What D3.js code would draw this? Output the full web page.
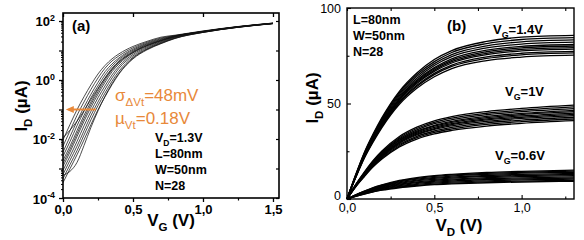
<!DOCTYPE html>
<html><head><meta charset="utf-8">
<script src="https://cdn.jsdelivr.net/npm/d3@7"></script>
<style>
body{margin:0;background:#fff}
svg{display:block}
text{font-family:"Liberation Sans",Arial,Helvetica,sans-serif}
</style>
</head><body>
<svg id="c" width="584" height="240"></svg>
<script>
// ---------- Panel (a): transfer curves ID(VG), VD = 1.3 V ----------
const vgGrid = [0, 0.05, 0.1, 0.15, 0.2, 0.25, 0.3, 0.35, 0.4, 0.5, 0.6, 0.7, 0.8, 1.0, 1.25, 1.5];
const transferCurves = [
  [9.3e-3, 0.031, 0.098, 0.27, 0.69, 1.6, 3.1, 5.2, 7.7, 13.7, 20.4, 28.3, 33, 46, 65, 85],
  [5.7e-3, 0.019, 0.063, 0.18, 0.48, 1.17, 2.5, 4.4, 6.6, 12.3, 19, 26.5, 32, 45, 64.5, 85],
  [3.6e-3, 0.012, 0.040, 0.12, 0.33, 0.83, 1.9, 3.5, 5.6, 11.1, 17.7, 25, 31.5, 44.5, 64, 84],
  [2.6e-3, 8.2e-3, 0.028, 0.087, 0.25, 0.63, 1.48, 2.95, 5.0, 10.2, 16.7, 23.7, 31, 44, 63.5, 83.5],
  [1.9e-3, 5.7e-3, 0.019, 0.063, 0.18, 0.48, 1.17, 2.5, 4.4, 9.4, 15.8, 22.6, 30.3, 43.8, 63.2, 83.2],
  [1.5e-3, 4.5e-3, 0.015, 0.050, 0.15, 0.40, 1.0, 2.2, 4.0, 8.9, 15.1, 21.9, 30.2, 43.7, 63.1, 83],
  [1.2e-3, 3.6e-3, 0.012, 0.040, 0.12, 0.33, 0.83, 1.9, 3.5, 8.3, 14.4, 21.1, 29.5, 43.3, 62.8, 82.8],
  [8.7e-4, 2.6e-3, 8.2e-3, 0.028, 0.087, 0.25, 0.63, 1.48, 2.95, 7.4, 13.3, 20, 28.5, 42.6, 62.3, 82.5],
  [6.3e-4, 1.9e-3, 5.7e-3, 0.019, 0.063, 0.18, 0.48, 1.17, 2.5, 6.6, 12.3, 19, 27.5, 42, 62, 82],
  [4.5e-4, 1.35e-3, 4.0e-3, 0.0135, 0.045, 0.135, 0.36, 0.91, 2.0, 5.9, 11.4, 18.1, 26.5, 41.5, 61.5, 81.8],
  [3.3e-4, 9.8e-4, 2.9e-3, 9.3e-3, 0.031, 0.098, 0.27, 0.69, 1.6, 5.2, 10.5, 17, 25.5, 41, 61, 81.5],
  [0.011, 0.02, 0.04, 0.09, 0.22, 0.52, 1.15, 2.3, 4.0, 8.5, 14.5, 21.5, 29.5, 43.5, 63, 83],
  [6e-4, 8e-4, 1.6e-3, 6e-3, 0.025, 0.09, 0.28, 0.75, 1.7, 5.5, 11, 17.5, 26, 41, 61, 81.5]
];
const xTicksA = [0, 0.5, 1.0, 1.5];
const xMinorA = [0.25, 0.75, 1.25];
const yTicksA = [1e-4, 1e-2, 1, 1e2];
const yDecadesA = [1e-4, 1e-3, 1e-2, 1e-1, 1, 10, 100];

// ---------- Panel (b): output curves ID(VD), three gate voltages ----------
const vdGrid = [0, 0.05, 0.1, 0.15, 0.2, 0.3, 0.4, 0.5, 0.6, 0.8, 1.0, 1.3];
const outVg14 = [
  [0, 11.2, 21.5, 29.9, 37.4, 49.6, 58.0, 64.0, 68.3, 72.5, 74.3, 75.3],
  [0, 11.4, 21.9, 30.4, 38.0, 50.4, 58.9, 65.1, 69.4, 73.6, 75.5, 76.5],
  [0, 11.5, 22.1, 30.7, 38.4, 50.9, 59.5, 65.8, 70.1, 74.4, 76.3, 77.3],
  [0, 11.7, 22.4, 31.2, 39.0, 51.7, 60.5, 66.8, 71.2, 75.6, 77.5, 78.5],
  [0, 11.8, 22.7, 31.5, 39.4, 52.2, 61.1, 67.5, 71.9, 76.3, 78.3, 79.3],
  [0, 11.9, 22.9, 31.8, 39.8, 52.7, 61.7, 68.2, 72.6, 77.1, 79.1, 80.1],
  [0, 12.1, 23.1, 32.2, 40.2, 53.3, 62.3, 68.8, 73.4, 77.9, 79.9, 80.9],
  [0, 12.2, 23.5, 32.6, 40.8, 54.1, 63.2, 69.9, 74.5, 79.1, 81.1, 82.1],
  [0, 12.4, 23.8, 33.1, 41.4, 54.9, 64.2, 70.9, 75.6, 80.2, 82.3, 83.3],
  [0, 12.6, 24.2, 33.6, 42.0, 55.7, 65.1, 71.9, 76.7, 81.4, 83.5, 84.5],
  [0, 12.8, 24.5, 34.1, 42.6, 56.4, 66.0, 73.0, 77.7, 82.5, 84.7, 85.7]
];
const outVg10 = [
  [0, 6.4, 11.8, 16.8, 20.9, 27.3, 31.4, 34.1, 35.9, 38.2, 39.6, 41.0],
  [0, 6.5, 12.1, 17.2, 21.4, 27.9, 32.1, 34.9, 36.7, 39.1, 40.5, 41.9],
  [0, 6.7, 12.4, 17.6, 21.9, 28.5, 32.8, 35.6, 37.5, 39.9, 41.3, 42.8],
  [0, 6.8, 12.6, 17.9, 22.3, 29.1, 33.5, 36.4, 38.3, 40.7, 42.2, 43.7],
  [0, 6.9, 12.8, 18.2, 22.7, 29.6, 34.0, 36.9, 38.9, 41.4, 42.8, 44.3],
  [0, 7.0, 13.0, 18.5, 23.0, 30.0, 34.5, 37.5, 39.5, 42.0, 43.5, 45.0],
  [0, 7.1, 13.2, 18.8, 23.3, 30.5, 35.0, 38.1, 40.1, 42.6, 44.2, 45.7],
  [0, 7.2, 13.4, 19.1, 23.7, 30.9, 35.5, 38.6, 40.7, 43.3, 44.8, 46.4],
  [0, 7.4, 13.7, 19.4, 24.2, 31.5, 36.2, 39.4, 41.5, 44.1, 45.7, 47.3],
  [0, 7.5, 13.9, 19.8, 24.6, 32.1, 36.9, 40.1, 42.3, 44.9, 46.5, 48.2],
  [0, 7.6, 14.2, 20.2, 25.1, 32.7, 37.6, 40.9, 43.1, 45.8, 47.4, 49.1]
];
const outVg06 = [
  [0, 1.4, 2.6, 3.7, 4.6, 5.9, 6.8, 7.5, 7.9, 8.5, 8.9, 9.3],
  [0, 1.4, 2.7, 3.8, 4.8, 6.2, 7.2, 7.8, 8.3, 9.0, 9.4, 9.8],
  [0, 1.5, 2.9, 4.1, 5.1, 6.6, 7.7, 8.3, 8.8, 9.5, 10.0, 10.4],
  [0, 1.6, 3.1, 4.3, 5.4, 7.0, 8.1, 8.8, 9.4, 10.1, 10.5, 11.0],
  [0, 1.7, 3.2, 4.6, 5.7, 7.4, 8.6, 9.3, 9.9, 10.6, 11.1, 11.6],
  [0, 1.8, 3.4, 4.8, 6.0, 7.8, 9.0, 9.8, 10.4, 11.2, 11.7, 12.2],
  [0, 1.9, 3.6, 5.0, 6.3, 8.2, 9.5, 10.3, 10.9, 11.8, 12.3, 12.8],
  [0, 2.0, 3.7, 5.3, 6.6, 8.6, 9.9, 10.8, 11.4, 12.3, 12.9, 13.4],
  [0, 2.1, 3.9, 5.5, 6.9, 9.0, 10.4, 11.3, 12.0, 12.9, 13.5, 14.0],
  [0, 2.2, 4.1, 5.8, 7.2, 9.4, 10.8, 11.8, 12.5, 13.4, 14.0, 14.6],
  [0, 2.2, 4.2, 6.0, 7.4, 9.7, 11.2, 12.2, 12.9, 13.9, 14.5, 15.1]
];
const xTicksB = [0, 0.5, 1.0];
const xMinorB = [0.25, 0.75, 1.25];
const yTicksB = [0, 50, 100];
const yMinorB = [25, 75];

const FONT = '"Liberation Sans",Arial,Helvetica,sans-serif';
const ORANGE = '#e8893a';
const svg = d3.select('#c');
const fmtComma = d => d3.format('.1f')(d).replace('.', ',');

// rich text helper: parts = [[text, 'n'|'sub'|'sup'], ...]
function rich(g, x, y, parts, opts) {
  const t = g.append('text').attr('x', x).attr('y', y)
    .attr('font-size', opts.size).attr('font-weight', opts.weight || 'bold')
    .attr('fill', opts.fill || '#000').attr('text-anchor', opts.anchor || 'start');
  if (opts.rotate) t.attr('transform', `rotate(-90,${x},${y})`);
  let shift = 0;
  parts.forEach(([s, k]) => {
    const sp = t.append('tspan').text(s);
    let target = 0, fs = opts.size;
    if (k === 'sub') { target = opts.size * 0.3; fs = opts.size * 0.68; }
    if (k === 'sup') { target = -opts.size * 0.42; fs = opts.size * 0.68; }
    sp.attr('dy', target - shift).attr('font-size', fs);
    shift = target;
  });
  return t;
}

// ================= Panel (a) =================
const xA = d3.scaleLinear().domain([0, 1.543]).range([63, 279]);
const yA = d3.scaleLog().domain([1e-4, 186.6]).range([198, 13]);
const gA = svg.append('g');

const lineA = d3.line().x((d, i) => xA(vgGrid[i])).y(d => yA(d)).curve(d3.curveMonotoneX);
gA.append('g').selectAll('path').data(transferCurves).join('path')
  .attr('d', lineA).attr('fill', 'none').attr('stroke', '#111').attr('stroke-width', 0.75);

// frame
gA.append('rect').attr('x', 63).attr('y', 13).attr('width', 216).attr('height', 185)
  .attr('fill', 'none').attr('stroke', '#000').attr('stroke-width', 1.6);

// x axis (a)
const axXA = d3.axisBottom(xA).tickValues(xTicksA).tickFormat(fmtComma).tickSize(4).tickPadding(3);
const gxA = gA.append('g').attr('transform', 'translate(0,198)').call(axXA);
gxA.select('.domain').remove();
gxA.selectAll('line').attr('stroke-width', 1.3);
gxA.selectAll('text').attr('font-family', FONT).attr('font-weight', 'bold').attr('font-size', 13).attr('fill', '#000');
gA.append('g').attr('transform', 'translate(0,198)').call(d3.axisBottom(xA).tickValues(xMinorA).tickFormat('').tickSize(2.5))
  .call(g => g.select('.domain').remove()).selectAll('line').attr('stroke-width', 1.2);
gA.append('g').attr('transform', 'translate(0,13)').call(d3.axisBottom(xA).tickValues(xTicksA).tickFormat('').tickSize(4))
  .call(g => g.select('.domain').remove()).selectAll('line').attr('stroke-width', 1.3);

// y axis (a)
const yMinorA = [];
yDecadesA.slice(0, -1).forEach(d => { for (let k = 2; k <= 9; k++) yMinorA.push(d * k); });
const axYA = d3.axisLeft(yA).tickValues(yTicksA).tickSize(4).tickPadding(3).tickFormat(() => '');
const gyA = gA.append('g').attr('transform', 'translate(63,0)').call(axYA);
gyA.select('.domain').remove();
gyA.selectAll('line').attr('stroke-width', 1.3);
gyA.selectAll('.tick').each(function (d) {
  const e = Math.round(Math.log10(d));
  d3.select(this).select('text').remove();
  rich(d3.select(this), -8, 5, [['10', 'n'], [String(e), 'sup']], { size: 13, anchor: 'end' });
});
gA.append('g').attr('transform', 'translate(63,0)').call(d3.axisLeft(yA).tickValues(yDecadesA.filter(d => !yTicksA.includes(d))).tickFormat('').tickSize(4))
  .call(g => g.select('.domain').remove()).selectAll('line').attr('stroke-width', 1.2);
gA.append('g').attr('transform', 'translate(63,0)').call(d3.axisLeft(yA).tickValues(yMinorA).tickFormat('').tickSize(2))
  .call(g => g.select('.domain').remove()).selectAll('line').attr('stroke-width', 1);
gA.append('g').attr('transform', 'translate(279,0)').call(d3.axisLeft(yA).tickValues(yDecadesA).tickFormat('').tickSize(3))
  .call(g => g.select('.domain').remove()).selectAll('line').attr('stroke-width', 1.2);

// axis titles (a)
rich(gA, 171, 226, [['V', 'n'], ['G', 'sub'], [' (V)', 'n']], { size: 17, anchor: 'middle' });
rich(gA, 27, 106, [['I', 'n'], ['D', 'sub'], [' (\u00b5A)', 'n']], { size: 17, anchor: 'middle', rotate: true });

// annotations (a)
rich(gA, 72, 31, [['(a)', 'n']], { size: 15 });
const arrowY = yA(0.1);
gA.append('line').attr('x1', xA(0.235)).attr('x2', xA(0.04)).attr('y1', arrowY).attr('y2', arrowY)
  .attr('stroke', ORANGE).attr('stroke-width', 2);
gA.append('path').attr('d', `M${xA(0.02)},${arrowY} l8,-3.5 l0,7 z`).attr('fill', ORANGE);
rich(gA, 115, 101, [['\u03c3', 'n'], ['\u0394Vt', 'sub'], ['=48mV', 'n']], { size: 17, weight: 'normal', fill: ORANGE });
rich(gA, 115, 124, [['\u00b5', 'n'], ['Vt', 'sub'], ['=0.18V', 'n']], { size: 17, weight: 'normal', fill: ORANGE });
const infoA = [[['V', 'n'], ['D', 'sub'], ['=1.3V', 'n']], [['L=80nm', 'n']], [['W=50nm', 'n']], [['N=28', 'n']]];
infoA.forEach((p, i) => rich(gA, 155, 142 + i * 16, p, { size: 12.5 }));

// ================= Panel (b) =================
const xB = d3.scaleLinear().domain([0, 1.3]).range([347, 574]);
const yB = d3.scaleLinear().domain([0, 100]).range([199, 8]);
const gB = svg.append('g');
const lineB = d3.line().x((d, i) => xB(vdGrid[i])).y(d => yB(d)).curve(d3.curveMonotoneX);
[outVg14, outVg10, outVg06].forEach(fam => {
  gB.append('g').selectAll('path').data(fam).join('path')
    .attr('d', lineB).attr('fill', 'none').attr('stroke', '#000').attr('stroke-width', 1.3);
});
gB.append('rect').attr('x', 347).attr('y', 8).attr('width', 227).attr('height', 191)
  .attr('fill', 'none').attr('stroke', '#000').attr('stroke-width', 1.4);

const gxB = gB.append('g').attr('transform', 'translate(0,199)')
  .call(d3.axisBottom(xB).tickValues(xTicksB).tickFormat(fmtComma).tickSize(-4).tickPadding(4));
gxB.select('.domain').remove();
gxB.selectAll('text').attr('font-family', FONT).attr('font-size', 12.5).attr('fill', '#000');
gB.append('g').attr('transform', 'translate(0,199)').call(d3.axisBottom(xB).tickValues(xMinorB).tickFormat('').tickSize(-2.5))
  .call(g => g.select('.domain').remove());
gB.append('g').attr('transform', 'translate(0,8)').call(d3.axisBottom(xB).tickValues(xTicksB.concat(xMinorB)).tickFormat('').tickSize(3))
  .call(g => g.select('.domain').remove());
const gyB = gB.append('g').attr('transform', 'translate(347,0)')
  .call(d3.axisLeft(yB).tickValues(yTicksB).tickSize(-4).tickPadding(6));
gyB.select('.domain').remove();
gyB.selectAll('text').attr('font-family', FONT).attr('font-size', 12.5).attr('fill', '#000')
  .attr('dy', d => d === 0 ? '0.05em' : '0.32em');
gB.append('g').attr('transform', 'translate(347,0)').call(d3.axisLeft(yB).tickValues(yMinorB).tickFormat('').tickSize(-2.5))
  .call(g => g.select('.domain').remove());
gB.selectAll('.tick line').attr('stroke-width', 1.1);

rich(gB, 459, 231, [['V', 'n'], ['D', 'sub'], [' (V)', 'n']], { size: 17, anchor: 'middle' });
rich(gB, 318, 98, [['I', 'n'], ['D', 'sub'], [' (\u00b5A)', 'n']], { size: 17, anchor: 'middle', rotate: true });

rich(gB, 447, 31, [['(b)', 'n']], { size: 15 });
const infoB = [[['L=80nm', 'n']], [['W=50nm', 'n']], [['N=28', 'n']]];
infoB.forEach((p, i) => rich(gB, 353, 24 + i * 16, p, { size: 12.5 }));
rich(gB, 493, 34, [['V', 'n'], ['G', 'sub'], ['=1.4V', 'n']], { size: 13 });
rich(gB, 505, 96, [['V', 'n'], ['G', 'sub'], ['=1V', 'n']], { size: 13 });
rich(gB, 495, 160, [['V', 'n'], ['G', 'sub'], ['=0.6V', 'n']], { size: 13 });
</script>
</body></html>
